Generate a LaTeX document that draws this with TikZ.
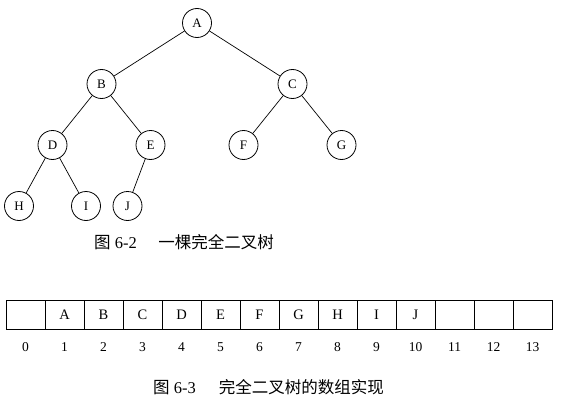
\documentclass[tikz,border=0pt]{standalone}
\usepackage{fontspec}
\setmainfont{Liberation Serif}
\newfontfamily\cjk{Noto Sans CJK SC}
\usetikzlibrary{positioning}
\tikzset{%
  v/.style = {circle,draw,line width=0.8pt,minimum size=29pt,
        inner sep=0pt,font=\fontsize{13}{15}\selectfont},
  cell/.style = {rectangle,draw,line width=0.7pt,minimum width=39pt,
        minimum height=29pt,inner sep=0pt,font=\fontsize{14.5}{16}\selectfont},
  idx/.style = {font=\fontsize{13.5}{15}\selectfont},
  figcap/.style = {font=\fontsize{16.5}{18}\selectfont}
}

\begin{document}
\begin{tikzpicture}[x=1pt,y=1pt,level distance=61pt,
        edge from parent/.style={draw,line width=0.7pt},
        level 1/.style={sibling distance=191pt},
        level 2/.style={sibling distance=98pt},
        level 3/.style={sibling distance=67pt}]
    \useasboundingbox (0,0) rectangle (570,-404);
    \node[v] (a) at (197,-23) {A}
    child{ node[v] (b) {B}
        child{ node[v] (d) {D}
            child{ node[v] (h) {H}}
            child{ node[v] (i) {I}}
        }
        child{ node[v] (e) {E}
            child[sibling distance=46pt]{ node[v] (j) {J}}
            child[missing,sibling distance=46pt]
        }
    }
    child{ node[v] (c) {C}
        child{ node[v] (f) {F}}
        child{ node[v] (g) {G}}
    };
    \node[figcap] (cap1) at (184,-242) {{\cjk 图} 6-2\hspace{1.3em}{\cjk 一棵完全二叉树}};
    % array
    \foreach \lbl [count=\i from 0] in {{},A,B,C,D,E,F,G,H,I,J,{},{},{}} {
        \node[cell] (cell\i) at (25.5+39*\i,-314.5) {\lbl};
        \node[idx,below=10pt of cell\i] (idx\i) {\i};
    }
    \node[figcap] (cap2) at (268.5,-387) {{\cjk 图} 6-3\hspace{1.4em}{\cjk 完全二叉树的数组实现}};
\end{tikzpicture}
\end{document}
